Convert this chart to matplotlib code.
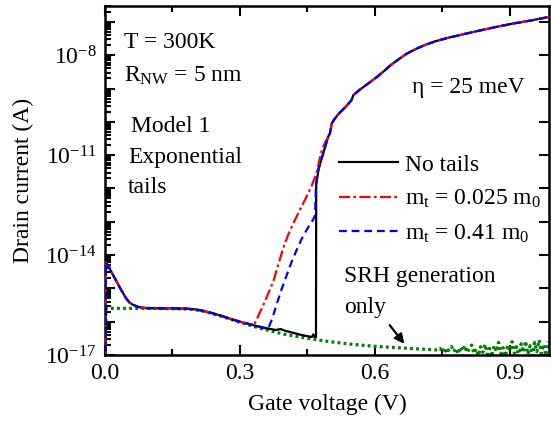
import numpy as np
import matplotlib
matplotlib.use("Agg")
import matplotlib.pyplot as plt
from matplotlib.ticker import FixedLocator, FuncFormatter, NullFormatter

plt.rcParams['font.family'] = ['Liberation Serif', 'DejaVu Serif']
plt.rcParams['mathtext.fontset'] = 'custom'
plt.rcParams['mathtext.rm'] = 'Liberation Serif'
plt.rcParams['mathtext.it'] = 'Liberation Serif'

# ---- data: gate voltage (V) and log10 of drain current (A) ----
# common sub-threshold part (all tail models)
low_v = [0.0, 0.002, 0.012, 0.024, 0.036, 0.046, 0.054, 0.063, 0.075, 0.09, 0.12, 0.15,
         0.18, 0.2, 0.22, 0.24, 0.26, 0.28, 0.3]
low_log = [-18.0, -14.22, -14.45, -14.75, -15.05, -15.28, -15.42, -15.5, -15.56, -15.59, -15.6, -15.6,
           -15.61, -15.63, -15.68, -15.75, -15.83, -15.92, -16.0]

# common on-state part
on_v = [0.504, 0.51, 0.52, 0.535, 0.548, 0.552, 0.565, 0.58, 0.604, 0.62, 0.635, 0.65, 0.67,
        0.69, 0.71, 0.735, 0.759, 0.8, 0.833, 0.87, 0.907, 0.95, 0.987]
on_log = [-10.05, -9.92, -9.75, -9.55, -9.35, -9.2, -9.05, -8.9, -8.66, -8.48, -8.3, -8.15, -7.96,
          -7.82, -7.7, -7.58, -7.49, -7.36, -7.26, -7.15, -7.05, -6.95, -6.85]

# No tails
notails_v = [0.32, 0.34, 0.36, 0.38, 0.39, 0.40, 0.42, 0.44, 0.46, 0.463, 0.466, 0.469,
             0.4695, 0.475, 0.485, 0.496, 0.5]
notails_log = [-16.07, -16.14, -16.2, -16.25, -16.22, -16.27, -16.34, -16.41, -16.46, -16.38, -16.46, -16.46,
               -11.9, -11.4, -10.95, -10.45, -10.35]

# m_t = 0.025 m0
mt025_v = [0.322, 0.333, 0.34, 0.352, 0.363, 0.374, 0.385, 0.396, 0.407, 0.418, 0.433, 0.448,
           0.46, 0.470, 0.476, 0.481, 0.49, 0.5]
mt025_log = [-16.08, -16.05, -15.85, -15.5, -15.15, -14.8, -14.3, -13.8, -13.4, -13.07, -12.65, -12.25,
             -11.9, -11.55, -11.2, -10.9, -10.6, -10.35]

# m_t = 0.41 m0
mt041_v = [0.33, 0.355, 0.363, 0.372, 0.381, 0.392, 0.404, 0.415, 0.426, 0.437, 0.448, 0.456,
           0.463, 0.467, 0.468, 0.469, 0.474, 0.485, 0.496, 0.5]
mt041_log = [-16.1, -16.2, -16.2, -15.9, -15.5, -15.05, -14.6, -14.2, -13.85, -13.52, -13.25, -13.07,
             -12.93, -12.8, -12.3, -11.85, -11.45, -10.95, -10.45, -10.35]

# SRH generation only
srh_v = [0.0, 0.002, 0.05, 0.1, 0.15, 0.18, 0.2, 0.22, 0.25, 0.28, 0.3, 0.35, 0.4, 0.45, 0.5,
         0.55, 0.6, 0.65, 0.7, 0.74,
         0.745, 0.75, 0.755, 0.76, 0.765, 0.77, 0.775, 0.78, 0.785, 0.79, 0.795, 0.80,
         0.805, 0.81, 0.815, 0.82, 0.825, 0.83, 0.835, 0.84, 0.845, 0.85, 0.855, 0.86,
         0.865, 0.87, 0.875, 0.88, 0.885, 0.89, 0.895, 0.90, 0.905, 0.91, 0.915, 0.92,
         0.925, 0.93, 0.935, 0.94, 0.945, 0.95, 0.955, 0.96, 0.965, 0.97, 0.975, 0.98, 0.985]
srh_log = [-18.0, -15.6, -15.6, -15.6, -15.61, -15.62, -15.64, -15.69, -15.8, -15.93, -16.02,
           -16.22, -16.38, -16.5, -16.6, -16.68, -16.74, -16.78, -16.82, -16.85,
           -16.80, -16.92, -16.78, -16.95, -16.83, -16.74, -16.90, -16.80, -16.97, -16.76,
           -16.88, -16.72, -16.93, -16.79, -16.70, -16.95, -16.82, -17.02, -16.75, -16.92,
           -16.68, -16.98, -16.80, -17.05, -16.72, -16.90, -16.62, -16.97, -16.78, -17.04,
           -16.70, -16.88, -16.60, -16.95, -16.75, -17.06, -16.66, -16.92, -16.58, -16.98,
           -16.72, -17.03, -16.62, -16.90, -16.55, -16.96, -16.68, -17.02, -16.60]

labels = ["No tails", "m$_t$ = 0.025 m$_0$", "m$_t$ = 0.41 m$_0$"]
x_ticks = [0.0, 0.3, 0.6, 0.9]
y_label_decades = [-17, -14, -11, -8]

# ---- figure ----
fig = plt.figure(figsize=(5.51, 4.23), dpi=100)
ax = fig.add_axes([105 / 551, 68 / 423, 444 / 551, 349 / 423])

def series(mid_v, mid_log):
    v = np.array(low_v + mid_v + on_v)
    return v, 10.0 ** np.array(low_log + mid_log + on_log)

v, i = series(notails_v, notails_log)
ax.plot(v, i, color='black', lw=1.6, ls='-', label=labels[0], zorder=3)
v, i = series(mt025_v, mt025_log)
ax.plot(v, i, color='red', lw=1.6, ls=(0, (5, 1.5, 1.2, 1.5)), label=labels[1], zorder=4)
v, i = series(mt041_v, mt041_log)
ax.plot(v, i, color='blue', lw=1.6, ls=(0, (3.5, 2.2)), label=labels[2], zorder=5)
ax.plot(srh_v, 10.0 ** np.array(srh_log), color='green', lw=2.3, ls=(0, (0.9, 1.0)), zorder=2)

ax.set_yscale('log')
ax.set_xlim(0.0, 0.987)
ax.set_ylim(1e-17, 3e-7)

ax.xaxis.set_major_locator(FixedLocator(x_ticks))
ax.xaxis.set_minor_locator(FixedLocator([0.15, 0.45, 0.75]))
ax.xaxis.set_major_formatter(FuncFormatter(lambda x, p: f"{x:.1f}"))

dec = list(range(-17, -6))
ax.yaxis.set_major_locator(FixedLocator([10.0 ** d for d in dec]))
minors = [m * 10.0 ** d for d in dec for m in range(2, 10)]
ax.yaxis.set_minor_locator(FixedLocator(minors))
ax.yaxis.set_minor_formatter(NullFormatter())

def yfmt(y, p):
    d = int(round(np.log10(y)))
    return f"10$^{{{d}}}$" if d in y_label_decades else ""
ax.yaxis.set_major_formatter(FuncFormatter(yfmt))

ax.tick_params(which='both', direction='in', top=True, right=True, width=1.5)
ax.tick_params(which='major', length=7, labelsize=17, pad=6)
ax.tick_params(which='minor', length=4)
ax.tick_params(axis='y', which='minor', right=False)
for s in ax.spines.values():
    s.set_linewidth(1.8)

ax.set_xlabel("Gate voltage (V)", fontsize=17, labelpad=7)
ax.set_ylabel("Drain current (A)", fontsize=17, labelpad=8)

tk = dict(fontsize=17, transform=fig.transFigure, va='center', ha='left')
def fx(px): return px / 551
def fy(py): return 1 - py / 423
fig.text(fx(124), fy(42), "T = 300K", **tk)
fig.text(fx(124), fy(76), "R$_{\\mathrm{NW}}$ = 5 nm", **tk)
fig.text(fx(131), fy(126), "Model 1", **tk)
fig.text(fx(128), fy(157), "Exponential", **tk)
fig.text(fx(128), fy(187), "tails", **tk)
fig.text(fx(412), fy(88), "η = 25 meV", **tk)
fig.text(fx(344), fy(276), "SRH generation", **tk)
fig.text(fx(344), fy(307), "only", **tk)

ax.annotate("", xy=(406 / 551, 1 - 346 / 423), xycoords='figure fraction',
            xytext=(388 / 551, 1 - 323 / 423), textcoords='figure fraction',
            arrowprops=dict(arrowstyle='-|>', color='black', lw=1.6, mutation_scale=14))

leg = ax.legend(loc='upper left', bbox_to_anchor=((339 - 105) / 444, 1 - (154 - 6) / 349),
                frameon=False, fontsize=17, handlelength=2.5, handletextpad=0.3,
                labelspacing=0.52, borderpad=0.0, borderaxespad=0.0)

fig.savefig("out.png", dpi=100)
